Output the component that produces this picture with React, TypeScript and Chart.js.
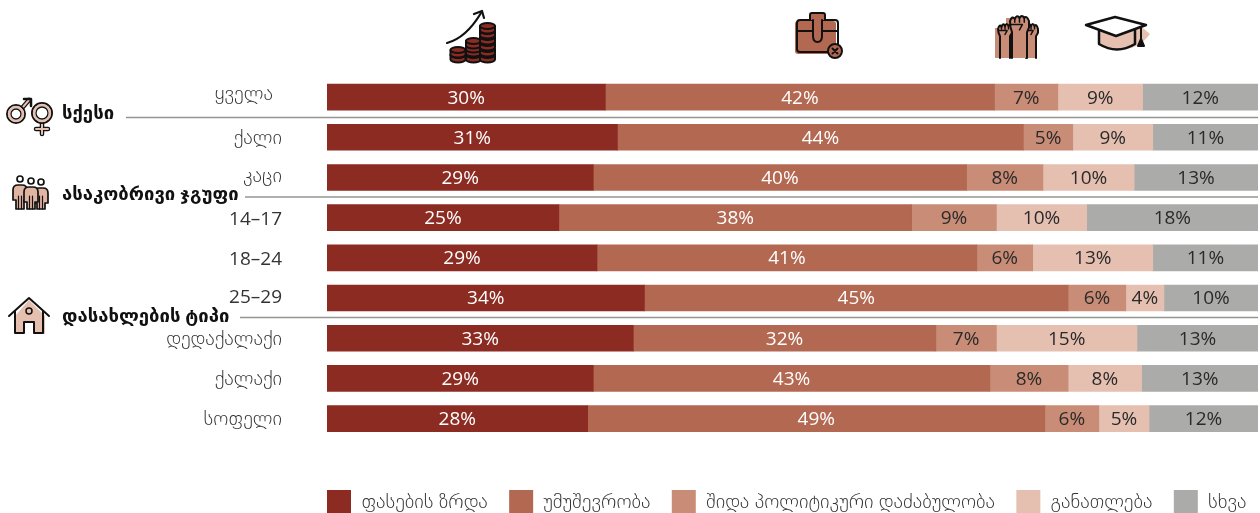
import React, { useEffect, useRef } from "react";
import { Chart, registerables } from "chart.js";

Chart.register(...registerables);

const categories = ["ყველა", "ქალი", "კაცი", "14–17", "18–24", "25–29", "დედაქალაქი", "ქალაქი", "სოფელი"];
const seriesNames = ["ფასების ზრდა", "უმუშევრობა", "შიდა პოლიტიკური დაძაბულობა", "განათლება", "სხვა"];
const colors = ["#8C2B22", "#B36852", "#C98C76", "#E5BFB0", "#ABABA9"];
const labelColors = ["#FFFFFF", "#FFFFFF", "#2A2A2A", "#2A2A2A", "#2A2A2A"];

const prices = [29.9, 31.2, 28.6, 24.9, 29.0, 34.1, 32.9, 28.6, 28.0];
const unemployment = [41.8, 43.6, 40.1, 37.9, 40.8, 45.5, 32.5, 42.6, 49.1];
const tension = [6.8, 5.3, 8.2, 9.1, 6.0, 6.2, 6.5, 8.4, 5.8];
const education = [9.1, 8.6, 9.8, 9.7, 12.9, 4.1, 15.1, 7.9, 5.4];
const other = [12.4, 11.3, 13.3, 18.4, 11.3, 10.1, 13.0, 12.5, 11.7];
const series = [prices, unemployment, tension, education, other];

const priceLabels = ["30%", "31%", "29%", "25%", "29%", "34%", "33%", "29%", "28%"];
const unemploymentLabels = ["42%", "44%", "40%", "38%", "41%", "45%", "32%", "43%", "49%"];
const tensionLabels = ["7%", "5%", "8%", "9%", "6%", "6%", "7%", "8%", "6%"];
const educationLabels = ["9%", "9%", "10%", "10%", "13%", "4%", "15%", "8%", "5%"];
const otherLabels = ["12%", "11%", "13%", "18%", "11%", "10%", "13%", "13%", "12%"];
const valueLabels = [priceLabels, unemploymentLabels, tensionLabels, educationLabels, otherLabels];

const sectionNames = ["სქესი", "ასაკობრივი ჯგუფი", "დასახლების ტიპი"];
const sectionLabelY = [114, 195, 317];
const sectionRuleY = [117.5, 197, 317.5];
const sectionRuleX = [126, 245, 240];
const tickNudgeX = [-9, 0, 0, 0, 0, 0, 0, 0, 0];
const tickNudgeY = [-3, 1, -1, 2, 2, 0, 1, 1, 1];

const FONT = '"Open Sans", "DejaVu Sans", sans-serif';

const overlayPlugin = {
  id: "overlay",
  afterLayout(chart: any) {
    const lg = chart.legend;
    if (lg) {
      lg.left = 305.7;
      lg.right = 1400;
      lg.top = 468.7;
      lg.bottom = 513;
    }
  },
  beforeDraw(chart: any) {
    const items = chart.scales.y.getLabelItems(chart.chartArea);
    items.forEach((item: any, i: number) => {
      if (!item.__nudged) {
        item.__nudged = true;
        item.options.translation = [
          item.options.translation[0] + tickNudgeX[i],
          item.options.translation[1] + tickNudgeY[i],
        ];
      }
    });
  },
  afterDatasetsDraw(chart: any) {
    const { ctx } = chart;
    ctx.save();
    ctx.textBaseline = "middle";
    series.forEach((_, di) => {
      const meta = chart.getDatasetMeta(di);
      meta.data.forEach((bar: any, i: number) => {
        ctx.textAlign = "center";
        ctx.font = `400 19px ${FONT}`;
        ctx.fillStyle = labelColors[di];
        ctx.fillText(valueLabels[di][i], (bar.base + bar.x) / 2, bar.y + 1);
      });
    });
    sectionNames.forEach((name, i) => {
      ctx.strokeStyle = "#949490";
      ctx.lineWidth = 1.5;
      ctx.beginPath();
      ctx.moveTo(sectionRuleX[i], sectionRuleY[i]);
      ctx.lineTo(1258, sectionRuleY[i]);
      ctx.stroke();
      ctx.textAlign = "left";
      ctx.fillStyle = "#111111";
      ctx.font = `bold 18.5px ${FONT}`;
      ctx.fillText(name, 62, sectionLabelY[i]);
    });
    ctx.restore();
  },
};

const ink = { stroke: "#111", strokeWidth: 2, strokeLinecap: "round", strokeLinejoin: "round" } as const;

function Coin({ x, y }: { x: number; y: number }) {
  return (
    <g>
      <path d={`M${x - 7.5} ${y} V${y + 4.5} A7.5 3 0 0 0 ${x + 7.5} ${y + 4.5} V${y} Z`} fill="#8C2B22" {...ink} />
      <ellipse cx={x} cy={y} rx={7.5} ry={3} fill="#8C2B22" {...ink} />
    </g>
  );
}

function Fist({ x, y, w, bottom }: { x: number; y: number; w: number; bottom: number }) {
  const b = w / 4;
  const h = w * 0.8;
  return (
    <g>
      <path
        d={`M${x + 2} ${bottom} V${y + h} Q${x} ${y + h * 0.7} ${x} ${y + 4}
            Q${x + b / 2} ${y - 2} ${x + b} ${y + 2} Q${x + b * 1.5} ${y - 3} ${x + b * 2} ${y + 1}
            Q${x + b * 2.5} ${y - 3} ${x + b * 3} ${y + 1} Q${x + b * 3.5} ${y - 2} ${x + w} ${y + 4}
            V${y + h * 0.7} L${x + w - 2} ${y + h} V${bottom}`}
        fill="#C98C76"
        {...ink}
      />
      <path
        d={`M${x + b} ${y + 2} V${y + h * 0.35} M${x + b * 2} ${y + 1} V${y + h * 0.35} M${x + b * 3} ${y + 1} V${y + h * 0.35} M${x + 1} ${y + h * 0.5} H${x + w * 0.65} L${x + w * 0.5} ${y + h * 0.85}`}
        fill="none"
        {...ink}
        strokeWidth={1.5}
      />
    </g>
  );
}

function Person({ x, head, top }: { x: number; head: number; top: number }) {
  return (
    <g>
      <circle cx={x} cy={head} r={3} fill="#FFF" {...ink} strokeWidth={1.7} />
      <path
        d={`M${x - 7} ${top + 15} V${top + 5} Q${x - 7} ${top} ${x - 2} ${top} H${x + 2} Q${x + 7} ${top} ${x + 7} ${top + 5} V${top + 15} H${x + 4} V209 H${x - 4} V${top + 15} Z`}
        fill="#E0B5A2"
        {...ink}
        strokeWidth={1.7}
      />
      <path d={`M${x - 1.5} 196 V209 M${x + 1.5} 196 V209`} fill="none" {...ink} strokeWidth={1.2} />
    </g>
  );
}

function Icons() {
  const stacks: [number, number[]][] = [
    [458, [55, 50]],
    [473.5, [55, 49, 45, 41]],
    [487.5, [55, 49, 43, 37, 31, 26]],
  ];
  return (
    <svg width={1260} height={513} style={{ position: "absolute", left: 0, top: 0, pointerEvents: "none" }}>
      {/* rising prices */}
      <path d="M447 43 C462 39 472 28 481 13" fill="none" {...ink} strokeWidth={2.2} />
      <path d="M474 14 L482 11 L484 18" fill="none" {...ink} strokeWidth={2.2} />
      {stacks.map(([x, ys]) => ys.map((y) => <Coin key={`${x}-${y}`} x={x} y={y} />))}

      {/* briefcase */}
      <rect x={795} y={21} width={41} height={33} rx={3} fill="#B36852" />
      <rect x={797} y={20} width={41} height={32} rx={3} fill="none" {...ink} />
      <path d="M810 20 V15 Q810 13 812 13 H823 Q825 13 825 15 V20" fill="#B36852" {...ink} />
      <path d="M797 31 H813 M822 31 H838" fill="none" {...ink} />
      <path d="M813 20 V36 Q813 42 817.5 42 Q822 42 822 36 V20" fill="#B36852" {...ink} />
      <circle cx={835} cy={51} r={7} fill="#B36852" {...ink} />
      <path d="M832.5 48.5 L837.5 53.5 M837.5 48.5 L832.5 53.5" fill="none" {...ink} />

      {/* fists */}
      <rect x={995} y={28} width={41} height={30} fill="#C98C76" />
      <rect x={1006} y={18} width={20} height={15} fill="#C98C76" />
      <Fist x={998} y={25} w={14} bottom={58} />
      <Fist x={1024} y={25} w={14} bottom={58} />
      <Fist x={1010} y={17} w={19} bottom={58} />

      {/* graduation cap */}
      <path d="M1102 30 Q1104 48 1118 50 Q1138 50 1150 34 L1138 24 Z" fill="#E5BFB0" />
      <path d="M1099 30 V44 Q1117 55 1135 44 V30" fill="#E5BFB0" {...ink} strokeWidth={2.5} />
      <path d="M1086 25 L1115 17 L1146 25 L1116 36 Z" fill="#FFF" {...ink} strokeWidth={2.5} />
      <path d="M1141 27 V41" fill="none" {...ink} />
      <path d="M1141 39 L1144 46 H1138 Z" fill="#111" {...ink} />

      {/* gender */}
      <path d="M23 107 L29 100" fill="none" stroke="#111" strokeWidth={4.5} strokeLinecap="round" />
      <path d="M23 107 L29 100" fill="none" stroke="#E5BFB0" strokeWidth={2} strokeLinecap="round" />
      <path d="M24 99 H31 V106" fill="none" {...ink} strokeWidth={2.5} />
      <circle cx={16} cy={114} r={9} fill="#FFF" stroke="#111" strokeWidth={2} />
      <circle cx={16} cy={114} r={7} fill="none" stroke="#E5BFB0" strokeWidth={2.5} />
      <circle cx={16} cy={114} r={5} fill="none" stroke="#111" strokeWidth={1.3} />
      <path d="M42 123 V134 M36 129 H48" fill="none" stroke="#111" strokeWidth={4.5} strokeLinecap="round" />
      <path d="M42 123 V134 M36 129 H48" fill="none" stroke="#E5BFB0" strokeWidth={2} strokeLinecap="round" />
      <circle cx={42} cy={113} r={10} fill="#FFF" stroke="#111" strokeWidth={2} />
      <circle cx={42} cy={113} r={8} fill="none" stroke="#E5BFB0" strokeWidth={2.5} />
      <circle cx={42} cy={113} r={6} fill="none" stroke="#111" strokeWidth={1.3} />

      {/* age group */}
      <Person x={41} head={182} top={188} />
      <Person x={20} head={179} top={185} />
      <Person x={31} head={181} top={187} />

      {/* settlement */}
      <path d="M15 316 V334 H24 V322 H34 V334 H45 V316 L29 300 Z" fill="#E5BFB0" />
      <path d="M9 316 L29 298 L49 316 M43 311 V333 H34 V322 H24 V333 H15 V311" fill="none" {...ink} />
      <circle cx={29} cy={311} r={3} fill="none" {...ink} strokeWidth={1.5} />
    </svg>
  );
}

export default function App() {
  const ref = useRef<HTMLCanvasElement>(null);

  useEffect(() => {
    const chart = new Chart(ref.current!, {
      type: "bar",
      plugins: [overlayPlugin],
      data: {
        labels: categories,
        datasets: series.map((values, i) => ({
          label: seriesNames[i],
          data: values,
          backgroundColor: colors[i],
          barThickness: 26,
          borderWidth: 0,
        })),
      },
      options: {
        indexAxis: "y",
        responsive: false,
        animation: false,
        layout: { padding: { top: 77, right: 2, bottom: 19, left: 0 } },
        scales: {
          x: { stacked: true, display: false, min: 0, max: 100 },
          y: {
            stacked: true,
            afterFit(scale: any) {
              scale.width = 327;
            },
            grid: { display: false, drawTicks: false },
            border: { display: false },
            ticks: {
              padding: 45,
              autoSkip: false,
              color: "#333333",
              font: (ctx: any) =>
                ctx.index >= 3 && ctx.index <= 5
                  ? { family: FONT, size: 19, weight: "400" }
                  : { family: FONT, size: 20.3, weight: "300" },
            },
          },
        },
        plugins: {
          tooltip: { enabled: false },
          legend: {
            position: "bottom",
            align: "start",
            labels: {
              boxWidth: 24,
              boxHeight: 24,
              padding: 21.3,
              color: "#333333",
              font: { family: FONT, size: 20.3, weight: "300" },
            },
          },
        },
      },
    } as any);
    return () => chart.destroy();
  }, []);

  return (
    <div style={{ position: "absolute", left: 0, top: 0, width: 1260, height: 513, background: "#fff", overflow: "hidden" }}>
      <canvas ref={ref} width={1260} height={513} style={{ display: "block" }} />
      <Icons />
    </div>
  );
}
